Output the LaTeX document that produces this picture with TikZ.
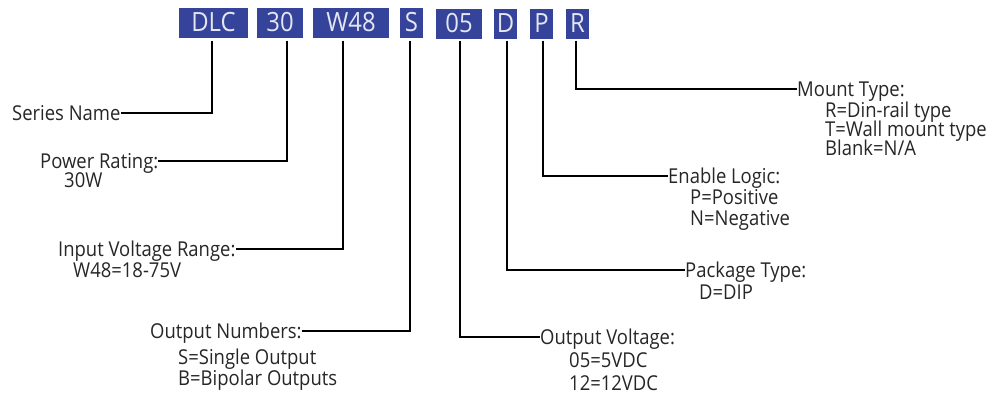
\documentclass[tikz,border=0pt]{standalone}
\usepackage{fontspec}
\setmainfont{Open Sans}[FakeStretch=0.9]
\usetikzlibrary{calc}
\definecolor{boxblue}{HTML}{35449A}
\definecolor{boxtext}{HTML}{E4E6F2}
\definecolor{ink}{HTML}{262626}
\begin{document}
\begin{tikzpicture}[x=1pt,y=-1pt,
  code/.style={fill=boxblue,text=boxtext,inner sep=0pt,minimum height=30pt,
    font=\fontsize{26.5}{26.5}\selectfont},
  lab/.style={inner sep=0pt,anchor=west,text height=14.6pt,text depth=0pt,
    font=\fontsize{20.5}{20.5}\selectfont,text=ink},
  conn/.style={line width=2.2pt,draw=black}]
\useasboundingbox (0,0) rectangle (1000,394);

% code boxes
\node[code,minimum width=69pt] (dlc) at (213.5,22.5) {DLC};
\node[code,minimum width=46pt] (b30) at (280,22.5) {30};
\node[code,minimum width=76pt] (w48) at (351,22.5) {W48};
\node[code,minimum width=23pt] (bs) at (411.5,22.5) {S};
\node[code,minimum width=46pt] (b05) at (459,23.5) {05};
\node[code,minimum width=23pt] (bd) at (505.5,23.5) {D};
\node[code,minimum width=23pt] (bp) at (541.5,23.5) {P};
\node[code,minimum width=23pt] (br) at (577.5,23.5) {R};

% labels left
\node[lab] (sn) at (12,113) {Series Name};
\node[lab] (pr) at (40,161) {Power Rating:};
\node[lab] (pr1) at (64,180) {30W};
\node[lab] (iv) at (58,249) {Input Voltage Range:};
\node[lab] (iv1) at (73,270) {W48=18-75V};
\node[lab] (on) at (150,331) {Output Numbers:};
\node[lab] (on1) at (178,357) {S=Single Output};
\node[lab] (on2) at (178,378) {B=Bipolar Outputs};

% labels right
\node[lab] (ov) at (540,337) {Output Voltage:};
\node[lab] (ov1) at (569,360) {05=5VDC};
\node[lab] (ov2) at (569,383) {12=12VDC};
\node[lab] (pt) at (685,270) {Package Type:};
\node[lab] (pt1) at (699,292) {D=DIP};
\node[lab] (el) at (668,176) {Enable Logic:};
\node[lab] (el1) at (690,197) {P=Positive};
\node[lab] (el2) at (690,218) {N=Negative};
\node[lab] (mt) at (797,89) {Mount Type:};
\node[lab] (mt1) at (825,110) {R=Din-rail type};
\node[lab] (mt2) at (825,129) {T=Wall mount type};
\node[lab] (mt3) at (825,148) {Blank=N/A};

% connector start points
\coordinate (cdlc) at ($(dlc.south)+(-1.5,3)$);
\coordinate (c30) at ($(b30.south)+(7,3)$);
\coordinate (cw48) at ($(w48.south)+(-8,3)$);
\coordinate (cs) at ($(bs.south)+(-1.5,3)$);
\coordinate (c05) at ($(b05.south)+(1,2)$);
\coordinate (cd) at ($(bd.south)+(1.5,2)$);
\coordinate (cp) at ($(bp.south)+(1.5,2)$);
\coordinate (cr) at ($(br.south)+(-1.5,2)$);

% connectors
\draw[conn] (cdlc) |- (sn.east);
\draw[conn] (c30) |- (pr.east);
\draw[conn] (cw48) |- (iv.east);
\draw[conn] (cs) |- (on.east);
\draw[conn] (c05) |- (ov.west);
\draw[conn] (cd) |- (pt.west);
\draw[conn] (cp) |- (el.west);
\draw[conn] (cr) |- (mt.west);
\end{tikzpicture}
\end{document}
